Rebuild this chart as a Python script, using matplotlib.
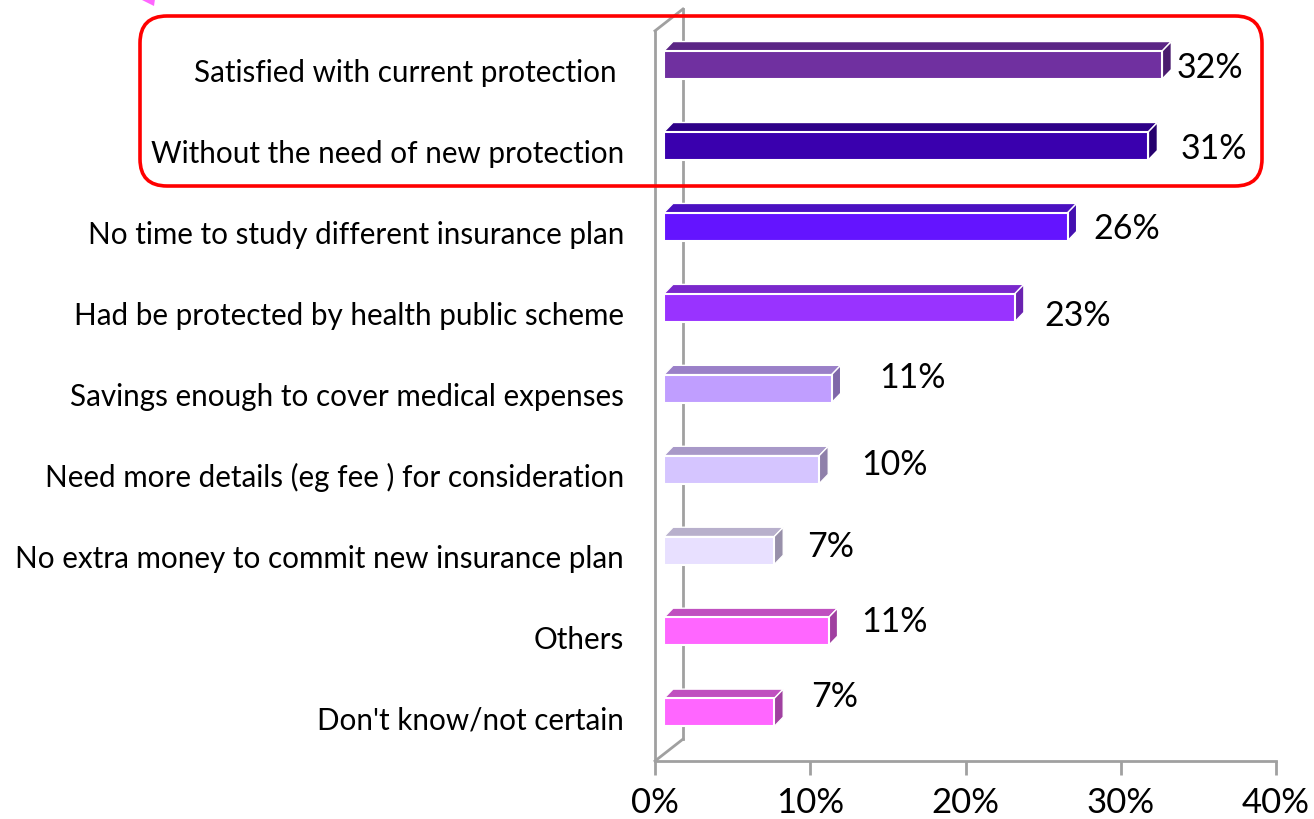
import matplotlib
matplotlib.use("Agg")
import matplotlib.pyplot as plt
from matplotlib.patches import Polygon, FancyBboxPatch

plt.rcParams['font.family'] = ['Lato', 'DejaVu Sans']

categories = [
    "Satisfied with current protection ",
    "Without the need of new protection",
    "No time to study different insurance plan",
    "Had be protected by health public scheme",
    "Savings enough to cover medical expenses",
    "Need more details (eg fee ) for consideration",
    "No extra money to commit new insurance plan",
    "Others",
    "Don't know/not certain",
]
values = [32.1, 31.2, 26.0, 22.6, 10.8, 10.0, 7.1, 10.6, 7.1]
value_labels = ["32%", "31%", "26%", "23%", "11%", "10%", "7%", "11%", "7%"]
front_colors = ["#7030A0", "#3A00AE", "#6414FF", "#9933FF", "#C09EFF",
                "#D5C5FF", "#E8E0FF", "#FF66FF", "#FF66FF"]
top_colors = ["#5B2585", "#2E0088", "#4A10C0", "#7A28CC", "#9A80C8",
              "#A899C8", "#B8B0CC", "#C050C0", "#C050C0"]
side_colors = ["#4A1C6E", "#26006E", "#4410B0", "#6A22B0", "#8068AA",
               "#8F80AA", "#9890AA", "#A040A0", "#A040A0"]
# label offsets (dx in %, dy in category units) – styling only
label_dx = [3.65, 4.8, 4.4, 4.65, 5.8, 5.4, 4.2, 4.85, 4.5]
label_dy = [0.03, 0.03, 0.01, 0.09, -0.15, -0.07, -0.06, -0.13, -0.2]
xticks = [0, 10, 20, 30, 40]
xtick_labels = ["0%", "10%", "20%", "30%", "40%"]

W, H = 1314, 820
fig = plt.figure(figsize=(W / 100, H / 100), dpi=100)
ax = fig.add_axes([655 / W, 58 / H, 621 / W, 752 / H])

ax.set_xlim(0, 40)
ax.set_ylim(8.60, -0.69)

bar_h = 0.346
x0 = 0.58        # perspective offset of front face
ddx = 0.58       # depth in x (data)
ddy = 0.115      # depth in y (data)
wall_dx = 1.8
wall_dy = 0.27

gray = "#A0A0A0"
# walls
ax.plot([0, 0], [8.60, -0.42], color=gray, lw=2, clip_on=False, zorder=1)
ax.plot([0, wall_dx], [-0.42, -0.42 - wall_dy], color=gray, lw=2, clip_on=False, zorder=1)
ax.plot([wall_dx, wall_dx], [8.60 - wall_dy, -0.69], color=gray, lw=2, clip_on=False, zorder=1)
ax.plot([0, wall_dx], [8.60, 8.60 - wall_dy], color=gray, lw=2, clip_on=False, zorder=1)

for i, v in enumerate(values):
    yc = i
    yt = yc - bar_h / 2
    yb = yc + bar_h / 2
    x1 = x0 + v
    top = Polygon([(x0, yt), (x1, yt), (x1 + ddx, yt - ddy), (x0 + ddx, yt - ddy)],
                  closed=True, facecolor=top_colors[i], edgecolor="white", lw=1.0, zorder=3)
    side = Polygon([(x1, yt), (x1 + ddx, yt - ddy), (x1 + ddx, yb - ddy), (x1, yb)],
                   closed=True, facecolor=side_colors[i], edgecolor="white", lw=1.0, zorder=3)
    ax.add_patch(top)
    ax.add_patch(side)
    ax.barh(yc, v, left=x0, height=bar_h, color=front_colors[i],
            edgecolor="white", linewidth=1.5, zorder=4)
    ax.text(v + label_dx[i], yc + label_dy[i], value_labels[i], ha="center", va="center",
            fontsize=24.5, color="black", zorder=5)
    ax.text(-2.0, yc + 0.09, categories[i], ha="right", va="center",
            fontsize=21.3, color="black", clip_on=False)

for s in ["top", "right", "left"]:
    ax.spines[s].set_visible(False)
ax.spines["bottom"].set_color(gray)
ax.spines["bottom"].set_linewidth(2)
ax.set_yticks([])
ax.set_xticks(xticks)
ax.set_xticklabels(xtick_labels, fontsize=25)
ax.tick_params(axis="x", length=10, width=2, color=gray, pad=8)

# red rounded highlight box (inches)
box = FancyBboxPatch((1.40, 6.33), 12.62 - 1.40, 8.03 - 6.33,
                     boxstyle="round,pad=0,rounding_size=0.27",
                     transform=fig.dpi_scale_trans, facecolor="none",
                     edgecolor="#FF0000", lw=2.6, zorder=10)
fig.patches.append(box)

# pink arrow tip fragment at the top
tri = Polygon([(1.40, 8.20), (1.55, 8.20), (1.54, 8.13)], closed=True,
              transform=fig.dpi_scale_trans, facecolor="#FF66FF", edgecolor="none")
fig.patches.append(tri)

fig.savefig("out.png", dpi=100)
